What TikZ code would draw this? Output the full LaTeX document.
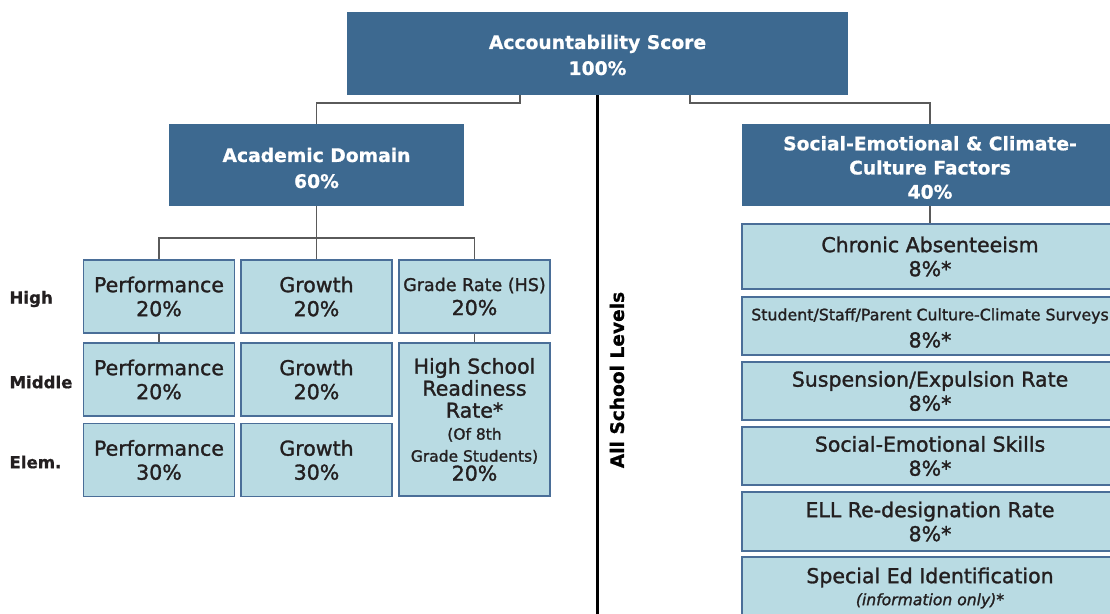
\documentclass[tikz,border=0pt]{standalone}
\usepackage{fontspec}
\setmainfont{DejaVu Sans}
\newfontfamily\bodyf{DejaVu Sans}[FakeBold=1.4]
\newfontfamily\headf{DejaVu Sans Bold}[FakeBold=0.8]
\definecolor{dkblue}{HTML}{3D6990}
\definecolor{ltblue}{HTML}{B9DBE3}
\definecolor{bdblue}{HTML}{4A6E98}
\definecolor{txt}{HTML}{231F20}
\definecolor{lngray}{HTML}{5A5A5A}
\begin{document}
\begin{tikzpicture}[x=1pt,y=-1pt,
  dk/.style={fill=dkblue, inner sep=0pt},
  dktext/.style={text=white, inner sep=0pt, align=center, font=\headf\fontsize{18.7}{26}\selectfont},
  lt/.style={fill=ltblue, draw=bdblue, line width=1.6pt, inner sep=0pt, align=center, text=txt, font=\bodyf\fontsize{20.5}{24}\selectfont},
  lttext/.style={inner sep=0pt, align=center, text=txt, font=\bodyf\fontsize{20.5}{24}\selectfont},
  colbox/.style={lt, minimum width=151pt, minimum height=73pt},
  rbox/.style={lt, minimum width=376pt},
  conn/.style={draw=lngray, line width=1.3pt},
  rowlab/.style={anchor=west, text=txt, font=\headf\fontsize{16.6}{20}\selectfont}
]
\useasboundingbox (0,0) rectangle (1110,613);

% top level
\node[dk, minimum width=501pt, minimum height=83pt] (top) at (597.5,53.5) {};
\node[dktext] (topt) at (597.5,55) {Accountability Score\\100\%};
\node[dk, minimum width=295pt, minimum height=82pt] (acad) at (316.5,165) {};
\node[dktext] (acadt) at (316.5,168) {Academic Domain\\60\%};
\node[dk, minimum width=376pt, minimum height=82pt] (soc) at (930,165) {};
\node[dktext, font=\headf\fontsize{18.7}{24.2}\selectfont] (soct) at (930,167.5) {Social-Emotional \& Climate-\\Culture Factors\\40\%};

% left grid
\node[colbox] (perfH) at (159,296.5) {Performance\\20\%};
\node[colbox] (growH) at (316.5,296.5) {Growth\\20\%};
\node[colbox] (gradeH) at (474.5,296.5) {{\fontsize{17.5}{20}\selectfont Grade Rate (HS)}\\20\%};
\node[colbox] (perfM) at (159,379.5) {Performance\\20\%};
\node[colbox] (growM) at (316.5,379.5) {Growth\\20\%};
\node[colbox] (perfE) at (159,460) {Performance\\30\%};
\node[colbox] (growE) at (316.5,460) {Growth\\30\%};
\node[lt, minimum width=151pt, minimum height=153pt, font=\bodyf\fontsize{20.5}{22}\selectfont] (hsr) at (474.5,419.5)
  {High School\\Readiness\\Rate*\\{\fontsize{15.5}{21}\selectfont (Of 8th}\\{\fontsize{15.5}{21}\selectfont Grade Students)}\\[-3pt]20\%};

% row labels
\node[rowlab] (lhigh) at (6,299) {High};
\node[rowlab] (lmid) at (6,382) {Middle};
\node[rowlab] (lelem) at (6,462) {Elem.};

% right column
\node[rbox, minimum height=65pt] (chron) at (930,256.5) {Chronic Absenteeism\\8\%*};
\node[rbox, minimum height=58pt] (surv) at (930,326) {};
\node[lttext] (survt) at (930,328) {{\fontsize{15.8}{20}\selectfont Student/Staff/Parent Culture-Climate Surveys}\\[3pt]8\%*};
\node[rbox, minimum height=58pt] (susp) at (930,391) {Suspension/Expulsion Rate\\8\%*};
\node[rbox, minimum height=58pt] (sel) at (930,456) {Social-Emotional Skills\\8\%*};
\node[rbox, minimum height=59pt] (ell) at (930,521.5) {ELL Re-designation Rate\\8\%*};
\node[rbox, minimum height=68pt] (sped) at (930,591) {};
\node[lttext] (spedt) at (930,588) {Special Ed Identification\\[-2pt]{\fontsize{15.6}{20}\selectfont\itshape (information only)*}};

% centre divider
\coordinate (bot) at (597.5,620);
\draw[black, line width=3pt] (top.south) -- (bot);
\node[rotate=90, text=black, font=\headf\fontsize{18.6}{20}\selectfont] (all) at (617,380) {All School Levels};

% connectors
\coordinate (tl) at (520,95);
\coordinate (tr) at (690,95);
\draw[conn] (tl) -- ++(0,8) -| (acad.north);
\draw[conn] (tr) -- ++(0,8) -| (soc.north);
\coordinate (aj) at (316.5,238);
\draw[conn] (acad.south) -- (growH.north);
\draw[conn] (perfH.north) |- (aj) -| (gradeH.north);
\draw[conn] (perfH.south) -- (perfM.north);
\draw[conn] (gradeH.south) -- (hsr.north);
\draw[conn] (soc.south) -- (chron.north);
\end{tikzpicture}
\end{document}
